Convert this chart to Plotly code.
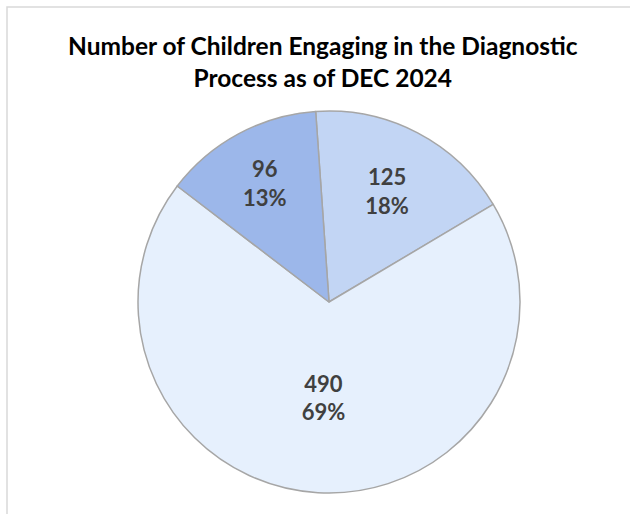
import plotly.graph_objects as go

categories = ["Group A", "Group B", "Group C"]
values = [125, 490, 96]
pct_labels = ["18%", "69%", "13%"]
colors = ["#C2D5F4", "#E6F0FD", "#9CB7EA"]
title_text = "Number of Children Engaging in the Diagnostic<br>Process as of DEC 2024"

W, H = 630, 514

fig = go.Figure(go.Pie(
    labels=categories,
    values=values,
    text=pct_labels,
    sort=False,
    direction="clockwise",
    rotation=-4,
    marker=dict(colors=colors, line=dict(color="#A6A6A6", width=1.5)),
    texttemplate="%{value}<br>%{text}",
    textposition="inside",
    insidetextorientation="horizontal",
    textfont=dict(family="Lato", size=22, color="#404040", weight="bold"),
    showlegend=False,
    hoverinfo="skip",
    domain=dict(x=[138 / W, 520 / W], y=[1 - 493 / H, 1 - 111 / H]),
))

fig.update_layout(
    width=W, height=H,
    margin=dict(l=0, r=0, t=0, b=0),
    paper_bgcolor="white",
    plot_bgcolor="white",
    font=dict(family="Lato"),
    shapes=[dict(type="rect", xref="paper", yref="paper",
                 x0=7 / W, x1=1.05, y0=-0.05, y1=1 - 7 / H,
                 line=dict(color="#D9D9D9", width=1.5), fillcolor="rgba(0,0,0,0)")],
    annotations=[dict(text="<b>" + title_text + "</b>", xref="paper", yref="paper",
                      x=323 / W, y=1 - 61 / H, xanchor="center", yanchor="middle",
                      showarrow=False,
                      font=dict(family="Lato", size=24.5, color="#000000"))],
)

fig.write_html("out.html", config={"displayModeBar": False},
               post_script="document.body.style.margin='0';")
